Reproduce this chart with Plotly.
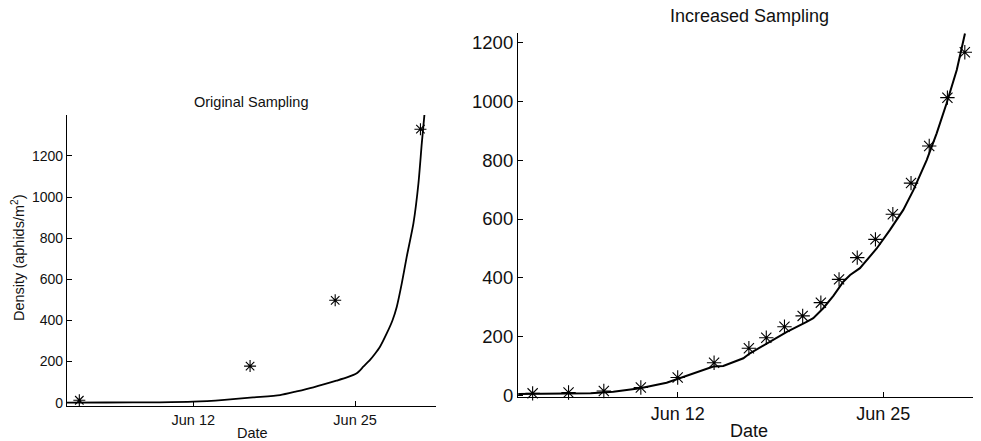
import plotly.graph_objects as go

# ---- data (x = day of June) ----
orig_days = [2.84, 16.56, 23.4, 30.25]
orig_vals = [12, 178, 498, 1330]

orig_fit_days = [1.85, 5.0, 9.3, 12.0, 14.5, 16.8, 18.97, 20.3, 21.65, 23.5, 24.4, 25.13, 25.66, 26.2, 26.6,
                 27.0, 27.55, 28.0, 28.35, 28.75, 29.15, 29.69, 30.09, 30.36, 30.6]
orig_fit_vals = [0, 1, 2, 5, 14, 26, 37, 55, 75, 107, 124, 143, 175, 208, 238,
                 272, 338, 400, 467, 580, 710, 873, 1067, 1262, 1420]

inc_days = [2.83, 5.1, 7.33, 9.67, 12.0, 14.3, 16.5, 17.6, 18.75, 19.9, 21.05, 22.2, 23.35,
            24.5, 25.6, 26.75, 27.9, 29.05, 30.15]
inc_vals = [8, 11, 16, 28, 62, 112, 161, 197, 234, 271, 316, 395, 469, 531, 616, 722, 848, 1012, 1166]

inc_fit_days = [1.92, 6.5, 7.93, 9.62, 11.3, 12.0, 13.2, 14.25, 14.88, 16.15, 16.57, 17.63, 18.9,
                20.15, 20.57, 21.2, 21.84, 22.47, 22.9, 23.52, 24.58, 25.42, 26.26, 26.9, 27.74,
                28.37, 29.0, 29.64, 30.16]
inc_fit_vals = [5.8, 8, 13.6, 25, 44, 57, 82, 99, 101, 127, 144, 178, 217, 251, 263, 297, 339, 387,
                410, 433, 500, 563, 631, 698, 800, 891, 993, 1106, 1230]

tick_vals = [12, 25]
tick_text = ["Jun 12", "Jun 25"]
y_ticks = [0, 200, 400, 600, 800, 1000, 1200]

# page body has an 8px margin; size the figure to fill the rest of the window
OFF = 8
W, H = 981 - OFF, 441 - OFF
FONT = "Liberation Sans, Arial, Helvetica, sans-serif"

fig = go.Figure()

fig.add_trace(go.Scatter(x=orig_fit_days, y=orig_fit_vals, mode="lines",
                         line=dict(color="black", width=1.8, shape="spline", smoothing=0.6),
                         xaxis="x", yaxis="y", showlegend=False))
fig.add_trace(go.Scatter(x=orig_days, y=orig_vals, mode="markers",
                         marker=dict(symbol="asterisk-open", size=10, color="black",
                                     line=dict(color="black", width=1.1)),
                         xaxis="x", yaxis="y", showlegend=False, cliponaxis=False))
fig.add_trace(go.Scatter(x=inc_fit_days, y=inc_fit_vals, mode="lines",
                         line=dict(color="black", width=2), xaxis="x2", yaxis="y2",
                         showlegend=False))
fig.add_trace(go.Scatter(x=inc_days, y=inc_vals, mode="markers",
                         marker=dict(symbol="asterisk-open", size=12, color="black",
                                     line=dict(color="#222", width=1.1)),
                         xaxis="x2", yaxis="y2", showlegend=False, cliponaxis=False))

def px_x(p):
    return (p - OFF) / W

def px_y(p):
    return 1 - (p - OFF) / H

common_axis = dict(showgrid=False, zeroline=False, showline=True, linecolor="black", linewidth=1.2,
                   ticks="inside", tickcolor="black", ticklen=5, mirror=False, automargin=False)

fig.update_layout(
    width=W, height=H,
    margin=dict(l=0, r=0, t=0, b=0, autoexpand=False),
    paper_bgcolor="white", plot_bgcolor="white",
    font=dict(family=FONT, color="#111"),
    xaxis=dict(domain=[px_x(67), px_x(436)], range=[1.85, 31.5], tickvals=tick_vals,
               ticktext=tick_text, tickfont=dict(size=14.5), anchor="y", **common_axis),
    yaxis=dict(domain=[px_y(406), px_y(115)], range=[-16, 1399], tickvals=y_ticks,
               tickfont=dict(size=14), anchor="x", **common_axis),
    xaxis2=dict(domain=[px_x(518), px_x(980)], range=[1.905, 31.11], tickvals=tick_vals,
                ticktext=tick_text, tickfont=dict(size=18), anchor="y2", **common_axis),
    yaxis2=dict(domain=[px_y(397), px_y(33)], range=[-4.4, 1231.6], tickvals=y_ticks,
                tickfont=dict(size=18.5), anchor="x2", **common_axis),
    annotations=[
        dict(text="Original Sampling", x=px_x(251), y=px_y(102), xref="paper", yref="paper",
             showarrow=False, font=dict(size=14.5), xanchor="center", yanchor="middle"),
        dict(text="Increased Sampling", x=px_x(749), y=px_y(16), xref="paper", yref="paper",
             showarrow=False, font=dict(size=18), xanchor="center", yanchor="middle"),
        dict(text="Date", x=px_x(252), y=px_y(433), xref="paper", yref="paper",
             showarrow=False, font=dict(size=14.5), xanchor="center", yanchor="middle"),
        dict(text="Date", x=px_x(749), y=px_y(431), xref="paper", yref="paper",
             showarrow=False, font=dict(size=18), xanchor="center", yanchor="middle"),
        dict(text="Density (aphids/m<sup>2</sup>)", x=px_x(18), y=px_y(258), xref="paper",
             yref="paper", showarrow=False, font=dict(size=14.5), textangle=-90,
             xanchor="center", yanchor="middle"),
    ],
)

fig.write_html("out.html")
